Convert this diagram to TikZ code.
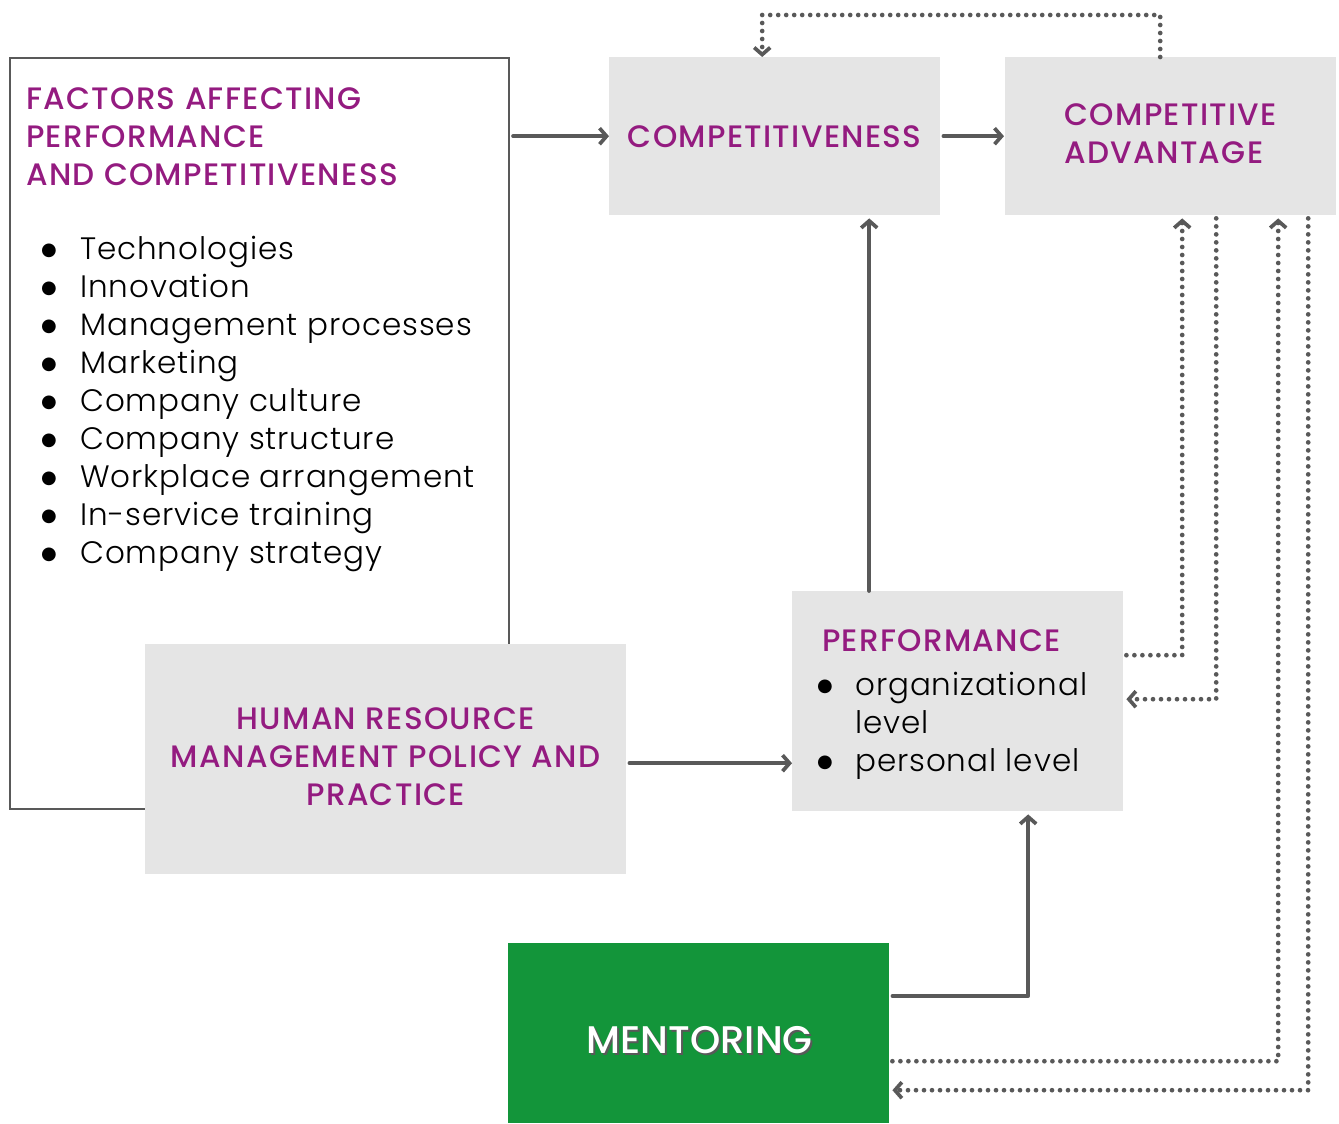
\documentclass[tikz,border=0pt]{standalone}
\usepackage{fontspec}
\setmainfont{Poppins Light}[LetterSpace=3]
\newfontfamily\popmed{Poppins Medium}[LetterSpace=4.2]
\newfontfamily\popmedment{Poppins Medium}
\newfontfamily\dejavu{DejaVu Sans}
\usetikzlibrary{arrows.meta,calc}
\definecolor{hdpurple}{HTML}{941B80}
\definecolor{boxgrey}{HTML}{E5E5E5}
\definecolor{mentgreen}{HTML}{13953A}
\definecolor{linegrey}{HTML}{595959}
\newcommand\hdfont{\popmed\fontsize{31}{38}\selectfont\color{hdpurple}}
\newcommand\bdfont{\fontsize{31}{38}\selectfont\color{black}}
\newcommand\bul{\makebox[39pt][l]{\raisebox{4pt}{\dejavu\fontsize{18}{18}\selectfont ●}}}
\newcommand\bulp{\makebox[38pt][l]{\raisebox{4pt}{\dejavu\fontsize{18}{18}\selectfont ●}}}
\tikzset{
  greybox/.style={fill=boxgrey, draw=none, minimum width=#1, anchor=north west, inner sep=0pt},
  arr/.style={draw=linegrey, line width=3.7pt, -{Straight Barb[length=7pt,width=16pt]}, line cap=round, line join=round},
  dotline/.style={draw=linegrey, line width=4.7pt, line cap=round, dash pattern=on 0pt off 8pt},
  dotarr/.style={dotline, -{Straight Barb[length=7pt,width=16pt,line width=3.7pt]}},
}
\begin{document}
\begin{tikzpicture}[x=1pt,y=-1pt]
\useasboundingbox (0,0) rectangle (1339,1124);
% factors box (outline)
\node[draw=linegrey, line width=2pt, minimum width=499pt, minimum height=751pt, anchor=north west, inner sep=0pt] (factors) at (9,57) {};
\node[anchor=north west, inner sep=0pt, align=left, font=\hdfont] (ftitle) at (26,87) {FACTORS AFFECTING\\PERFORMANCE\\AND COMPETITIVENESS};
\node[anchor=north west, inner sep=0pt, align=left, font=\bdfont] (flist) at (41,236) {%
\bul Technologies\\
\bul Innovation\\
\bul Management processes\\
\bul Marketing\\
\bul Company culture\\
\bul Company structure\\
\bul Workplace arrangement\\
\bul In-service training\\
\bul Company strategy};
% grey boxes
\node[greybox=331pt, minimum height=158pt] (comp) at (609,57) {};
\node[font=\hdfont, inner sep=0pt] (comptext) at (comp.center) {COMPETITIVENESS};
\node[greybox=331pt, minimum height=158pt] (ca) at (1005,57) {};
\node[font=\hdfont, inner sep=0pt, align=left] (catext) at ([yshift=3pt]ca.center) {COMPETITIVE\\ADVANTAGE};
\node[greybox=331pt, minimum height=220pt] (perf) at (792,591) {};
\node[anchor=north west, inner sep=0pt, align=left, font=\bdfont] (perftext) at (817,629) {%
\hspace{5pt}{\hdfont PERFORMANCE}\\[6pt]
\bulp organizational\\
\hspace{38pt}level\\
\bulp personal level};
\node[greybox=481pt, minimum height=230pt] (hr) at (145,644) {};
\node[font=\hdfont, inner sep=0pt, align=center] (hrtext) at ([yshift=3pt]hr.center) {HUMAN RESOURCE\\MANAGEMENT POLICY AND\\PRACTICE};
\node[fill=mentgreen, minimum width=381pt, minimum height=180pt, anchor=north west, inner sep=0pt] (ment) at (508,943) {};
\node[inner sep=0pt, font={\popmedment\fontsize{38.5}{40}\selectfont}] (menttext) at ([xshift=1pt,yshift=-8pt]ment.center) {\rlap{\hspace{1.6pt}\raisebox{-1.6pt}{\color{black!65}MENTORING}}\color{white}MENTORING};
% solid connectors
\draw[arr] ([xshift=3pt]factors.east |- comp.west) -- (comp.west);
\draw[arr] ([xshift=3pt]comp.east) -- ([xshift=-1pt]ca.west);
\draw[arr] ([xshift=-88.5pt]perf.north) -- ([xshift=-88.5pt,yshift=-3pt]perf.north |- comp.south);
\draw[arr] ([xshift=3pt,yshift=-4pt]hr.east) -- ([yshift=-4pt]hr.east -| perf.west);
\draw[arr] ([xshift=3pt,yshift=-53pt]ment.north east) -| ([xshift=70.5pt,yshift=-3pt]perf.south);
% dotted connectors
\draw[dotarr] ([xshift=-10.5pt]ca.north) -- ++(0,-42) -| ([xshift=-12.5pt]comp.north);
\draw[dotarr] ([xshift=3pt,yshift=46pt]perf.east) -| ([xshift=11.5pt,yshift=-3pt]ca.south);
\draw[dotarr] ([xshift=45.5pt,yshift=-3pt]ca.south) |- ([xshift=3pt,yshift=2pt]perf.east);
\draw[dotarr] ([xshift=3pt,yshift=-28pt]ment.east) -| ([xshift=107.5pt,yshift=-3pt]ca.south);
\draw[dotarr] ([xshift=137.5pt,yshift=-3pt]ca.south) |- ([xshift=3pt,yshift=-57pt]ment.east);
\end{tikzpicture}
\end{document}
